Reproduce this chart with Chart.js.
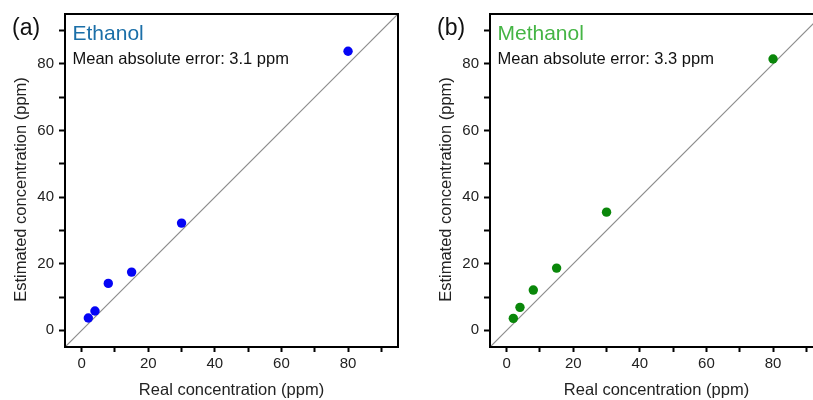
<!DOCTYPE html>
<html><head><meta charset="utf-8">
<script src="https://cdn.jsdelivr.net/npm/chart.js@4.4.0/dist/chart.umd.min.js"></script>
<style>
html,body{margin:0;padding:0;background:#fff;overflow:hidden;width:813px;height:400px;}
#wrap{position:relative;width:813px;height:400px;overflow:hidden;background:#fff;}
.panel{position:absolute;top:0;width:410px;height:400px;}
</style></head><body>
<div id="wrap">
<div class="panel" style="left:0"><canvas id="ca" width="410" height="400"></canvas></div>
<div class="panel" style="left:425px"><canvas id="cb" width="410" height="400"></canvas></div>
</div>
<script>
// ---- data ----
const tickValues = [0, 10, 20, 30, 40, 50, 60, 70, 80, 90];
const tickLabels = ['0', '', '20', '', '40', '', '60', '', '80', ''];
const axisMin = -5;
const axisMax = 95;
const identityLine = [-5, 95];
const realConc = [2, 4, 8, 15, 30, 80];
const ethanolEst = [3.7, 5.8, 14.1, 17.5, 32.2, 83.8];
const methanolEst = [3.6, 6.9, 12.1, 18.7, 35.5, 81.5];

const FONT = "'Liberation Sans', Arial, Helvetica, sans-serif";

function makePanel(id, est, pointColor, letter, name, nameColor, mae) {
  const pts = realConc.map((x, i) => ({x: x, y: est[i]}));
  const diag = identityLine.map(v => ({x: v, y: v}));
  const textPlugin = {
    id: 'texts' + id,
    afterDraw(chart) {
      const ctx = chart.ctx;
      const a = chart.chartArea;
      ctx.save();
      // frame
      ctx.strokeStyle = '#000';
      ctx.lineWidth = 2;
      ctx.strokeRect(a.left, a.top, a.right - a.left, a.bottom - a.top);
      ctx.textAlign = 'left';
      ctx.textBaseline = 'alphabetic';
      ctx.fillStyle = '#111';
      ctx.font = '23px ' + FONT;
      ctx.fillText(letter, 12, 34.5);
      ctx.fillStyle = nameColor;
      ctx.font = '21px ' + FONT;
      ctx.fillText(name, a.left + 7.5, 40);
      ctx.fillStyle = '#111';
      ctx.font = '16.5px ' + FONT;
      ctx.fillText(mae, a.left + 7.5, 63.5);
      // y title
      ctx.translate(21, 189.5);
      ctx.rotate(-Math.PI / 2);
      ctx.textAlign = 'center';
      ctx.textBaseline = 'middle';
      ctx.fillStyle = '#222';
      ctx.font = '16.5px ' + FONT;
      ctx.fillText('Estimated concentration (ppm)', 0, 0);
      ctx.restore();
    }
  };
  const axisCommon = (isX) => ({
    type: 'linear',
    min: axisMin,
    max: axisMax,
    afterBuildTicks: s => { s.ticks = tickValues.map(v => ({value: v})); },
    ticks: {
      callback: v => tickLabels[tickValues.indexOf(v)],
      font: {family: FONT, size: 15},
      color: '#222',
      padding: isX ? 3 : 5,
      maxRotation: 0,
      autoSkip: false
    },
    grid: {drawOnChartArea: false, drawTicks: true, tickLength: isX ? 5 : 6, tickWidth: 2, tickColor: '#000'},
    border: {display: true, color: '#000', width: 2}
  });
  const xAxis = axisCommon(true);
  xAxis.afterFit = s => { s.height = 53; };
  xAxis.title = {display: true, text: 'Real concentration (ppm)', font: {family: FONT, size: 16.5, lineHeight: 1.1}, color: '#222', padding: 0};
  const yAxis = axisCommon(false);
  yAxis.afterFit = s => { s.width = 65; };
  new Chart(document.getElementById(id), {
    type: 'scatter',
    data: {
      datasets: [
        {data: pts, backgroundColor: pointColor, borderWidth: 0, pointRadius: 4.7, pointHoverRadius: 4.7},
        {data: diag, showLine: true, borderColor: '#8c8c8c', borderWidth: 1.2, pointRadius: 0, fill: false}
      ]
    },
    options: {
      responsive: false,
      animation: false,
      devicePixelRatio: 1,
      events: [],
      layout: {padding: {left: 0, right: 12, top: 13, bottom: 0}},
      plugins: {legend: {display: false}, tooltip: {enabled: false}},
      scales: {x: xAxis, y: yAxis}
    },
    plugins: [textPlugin]
  });
}

makePanel('ca', ethanolEst, '#0505f5', '(a)', 'Ethanol', '#1b6fa8', 'Mean absolute error: 3.1 ppm');
makePanel('cb', methanolEst, '#0a870a', '(b)', 'Methanol', '#45b545', 'Mean absolute error: 3.3 ppm');
</script>
</body></html>
